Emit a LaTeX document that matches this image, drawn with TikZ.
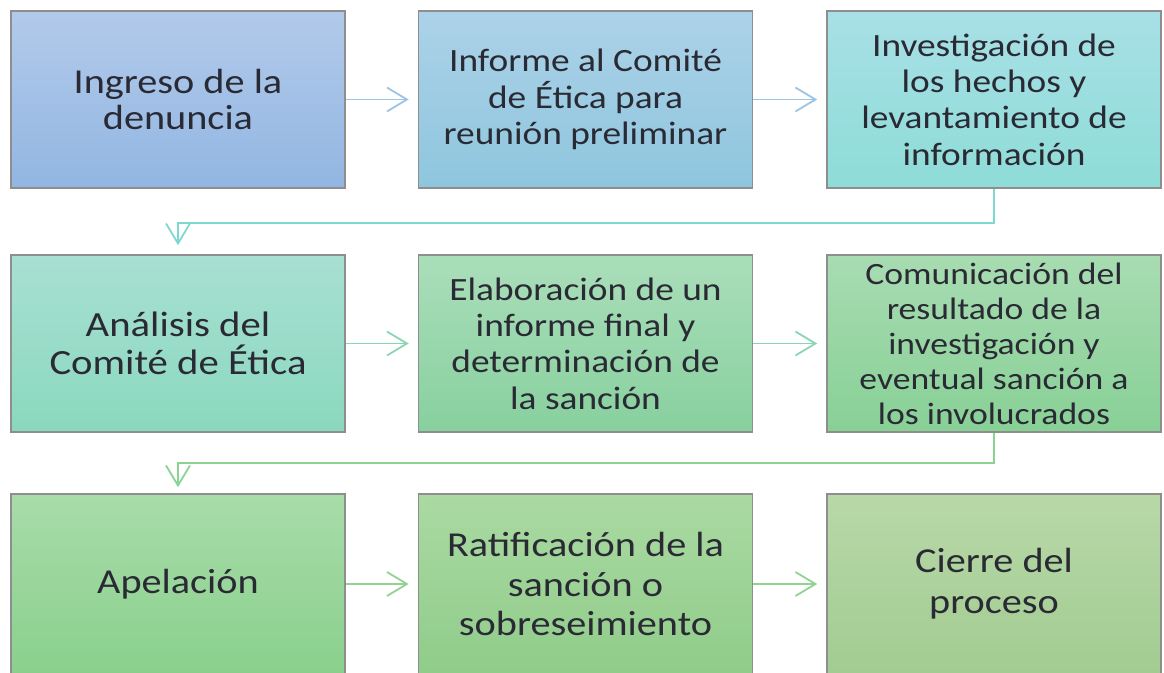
\documentclass[tikz,border=0pt]{standalone}
\usepackage{fontspec}
\setmainfont[FakeStretch=1.15]{Carlito}
\usetikzlibrary{arrows.meta}
\definecolor{txt}{HTML}{2A2A34}
\definecolor{bord}{HTML}{8E8E8E}
\definecolor{aBlue}{HTML}{9CC4E6}
\definecolor{aTeal}{HTML}{7DD9CF}
\definecolor{aMint}{HTML}{8AD5B4}
\definecolor{aGreen}{HTML}{8BD391}
\definecolor{aGreen2}{HTML}{92D293}
\tikzset{
  box/.style={draw=bord, line width=1.6pt, minimum width=334pt, minimum height=177pt,
    inner sep=0pt, align=center, text=txt, font=\fontsize{32.5}{36.3}\selectfont},
  conn/.style={line width=1.8pt, -{Straight Barb[length=20pt,width=24pt]}, shorten >=9pt},
}
\begin{document}
\begin{tikzpicture}[x=1pt,y=-1pt]
\useasboundingbox (0,0) rectangle (1164,672);
\clip (0,0) rectangle (1164,672);
\node[box, font=\fontsize{35}{36}\selectfont, top color={rgb,255:red,178;green,202;blue,234}, bottom color={rgb,255:red,146;green,182;blue,226}] (b1) at (178,99.5) {Ingreso de la\\denuncia};
\node[box, top color={rgb,255:red,172;green,210;blue,232}, bottom color={rgb,255:red,142;green,198;blue,222}] (b2) at (585.5,99.5) {Informe al Comité\\de Ética para\\reunión preliminar};
\node[box, top color={rgb,255:red,168;green,224;blue,230}, bottom color={rgb,255:red,142;green,220;blue,216}] (b3) at (994,99.5) {Investigación de\\los hechos y\\levantamiento de\\información};
\node[box, font=\fontsize{35.4}{38}\selectfont, top color={rgb,255:red,168;green,224;blue,210}, bottom color={rgb,255:red,138;green,216;blue,190}] (b4) at (178,343.5) {Análisis del\\Comité de Ética};
\node[box, top color={rgb,255:red,170;green,222;blue,186}, bottom color={rgb,255:red,136;green,208;blue,158}] (b5) at (585.5,343.5) {Elaboración de un\\informe final y\\determinación de\\la sanción};
\node[box, font=\fontsize{31}{35}\selectfont, top color={rgb,255:red,168;green,220;blue,178}, bottom color={rgb,255:red,136;green,208;blue,150}] (b6) at (994,343.5) {Comunicación del\\resultado de la\\investigación y\\eventual sanción a\\los involucrados};
\node[box, font=\fontsize{35}{40}\selectfont, minimum height=180pt, top color={rgb,255:red,168;green,220;blue,170}, bottom color={rgb,255:red,138;green,208;blue,140}] (b7) at (178,584) {Apelación};
\node[box, font=\fontsize{35}{39.5}\selectfont, minimum height=180pt, top color={rgb,255:red,170;green,218;blue,162}, bottom color={rgb,255:red,144;green,204;blue,138}] (b8) at (585.5,584) {Ratificación de la\\sanción o\\sobreseimiento};
\node[box, font=\fontsize{35}{41}\selectfont, minimum height=180pt, top color={rgb,255:red,184;green,216;blue,168}, bottom color={rgb,255:red,162;green,204;blue,146}] (b9) at (994,584) {Cierre del\\proceso};
\draw[conn, aBlue] (b1) -- (b2);
\draw[conn, aBlue] (b2) -- (b3);
\draw[conn, aTeal] (b3.south) -- ++(0,34) -| (b4.north);
\draw[conn, aMint] (b4) -- (b5);
\draw[conn, aMint] (b5) -- (b6);
\draw[conn, aGreen, shorten >=6pt] (b6.south) -- ++(0,30) -| (b7.north);
\draw[conn, aGreen2] (b7) -- (b8);
\draw[conn, aGreen2] (b8) -- (b9);
\end{tikzpicture}
\end{document}
